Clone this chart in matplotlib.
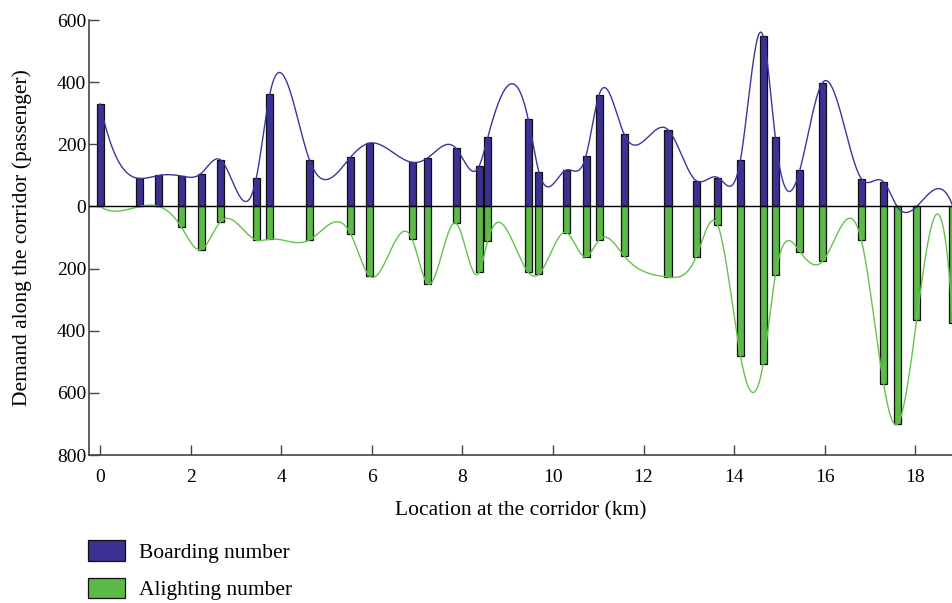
import matplotlib
matplotlib.use("Agg")
import matplotlib.pyplot as plt
import numpy as np
from matplotlib.ticker import FuncFormatter

# stop locations along the corridor (km)
location = [0.00, 0.88, 1.30, 1.79, 2.23, 2.66, 3.45, 3.75, 4.62, 5.54,
            5.96, 6.89, 7.24, 7.86, 8.37, 8.56, 9.45, 9.69, 10.29, 10.73,
            11.02, 11.57, 12.54, 13.16, 13.64, 14.14, 14.64, 14.91, 15.45, 15.95,
            16.81, 17.30, 17.60, 18.03, 18.83]

boarding = [330, 90, 100, 98, 106, 150, 91, 362, 151, 160,
            204, 142, 157, 187, 130, 222, 283, 111, 117, 163,
            360, 233, 247, 83, 93, 150, 548, 222, 117, 398,
            89, 79, 0, 0, 0]

alighting = [0, 0, 0, 65, 139, 49, 108, 105, 108, 90,
             225, 105, 249, 54, 212, 110, 211, 218, 84, 162,
             107, 159, 227, 162, 61, 481, 507, 221, 145, 177,
             109, 571, 701, 365, 376]

blue = "#3a3192"
green = "#5cb947"


def spline_curve(x, y, xs):
    # cubic spline with not-a-knot ends, only for the smooth line through the bar ends
    x = np.asarray(x, float)
    y = np.asarray(y, float)
    n = len(x)
    h = np.diff(x)
    A = np.zeros((n, n))
    r = np.zeros(n)
    A[0, 0:3] = [-h[1], h[0] + h[1], -h[0]]
    A[-1, -3:] = [-h[-1], h[-1] + h[-2], -h[-2]]
    for i in range(1, n - 1):
        A[i, i - 1] = h[i - 1]
        A[i, i] = 2 * (h[i - 1] + h[i])
        A[i, i + 1] = h[i]
        r[i] = 3 * ((y[i + 1] - y[i]) / h[i] - (y[i] - y[i - 1]) / h[i - 1])
    c = np.linalg.solve(A, r)
    b = (y[1:] - y[:-1]) / h - h * (2 * c[:-1] + c[1:]) / 3
    d = (c[1:] - c[:-1]) / (3 * h)
    idx = np.clip(np.searchsorted(x, xs) - 1, 0, n - 2)
    t = xs - x[idx]
    return y[idx] + b[idx] * t + c[idx] * t ** 2 + d[idx] * t ** 3


plt.rcParams["font.family"] = ["Liberation Serif", "DejaVu Serif"]

fig = plt.figure(figsize=(9.52, 6.03), dpi=100)
ax = fig.add_axes([0.0935, 0.2454, 0.9065, 0.7214])

x = np.array(location)
b_vals = np.array(boarding)
a_vals = -np.array(alighting)

ax.bar(x, b_vals, width=0.155, color=blue, edgecolor="#111111", linewidth=0.9,
       label="Boarding number", zorder=3)
ax.bar(x, a_vals, width=0.155, color=green, edgecolor="#111111", linewidth=0.9,
       label="Alighting number", zorder=3)

xs = np.linspace(x[0], x[-1], 2000)
ax.plot(xs, spline_curve(x, b_vals, xs), color="#3b35a0", linewidth=1.0, zorder=4)
ax.plot(xs, spline_curve(x, a_vals, xs), color="#66c24f", linewidth=1.0, zorder=4)

ax.axhline(0, color="black", linewidth=1.0, zorder=5)

ax.set_xlim(-0.243, 18.81)
ax.set_ylim(-800, 600)
ax.set_xticks(np.arange(0, 19, 2))
ax.set_yticks(np.arange(-800, 601, 200))
ax.yaxis.set_major_formatter(FuncFormatter(lambda v, p: "%d" % abs(v)))

for s in ["top", "right"]:
    ax.spines[s].set_visible(False)
for s in ["left", "bottom"]:
    ax.spines[s].set_color("#444444")
    ax.spines[s].set_linewidth(1.2)
ax.tick_params(direction="in", length=7, width=1.0, color="#444444", labelsize=14)
ax.tick_params(axis="x", pad=10)
ax.tick_params(axis="y", pad=2)

ax.set_xlabel("Location at the corridor (km)", fontsize=15.5, labelpad=11)
ax.set_ylabel("Demand along the corridor (passenger)", fontsize=15.5)
ax.yaxis.set_label_coords(-0.066, 0.5)

fig.legend(loc="upper left", bbox_to_anchor=(88 / 952, 1 - 540 / 603), frameon=False,
           fontsize=15.5, handlelength=1.7, handleheight=1.1, handletextpad=0.65,
           labelspacing=0.7, borderpad=0, borderaxespad=0)

fig.savefig("out.png", dpi=100)
